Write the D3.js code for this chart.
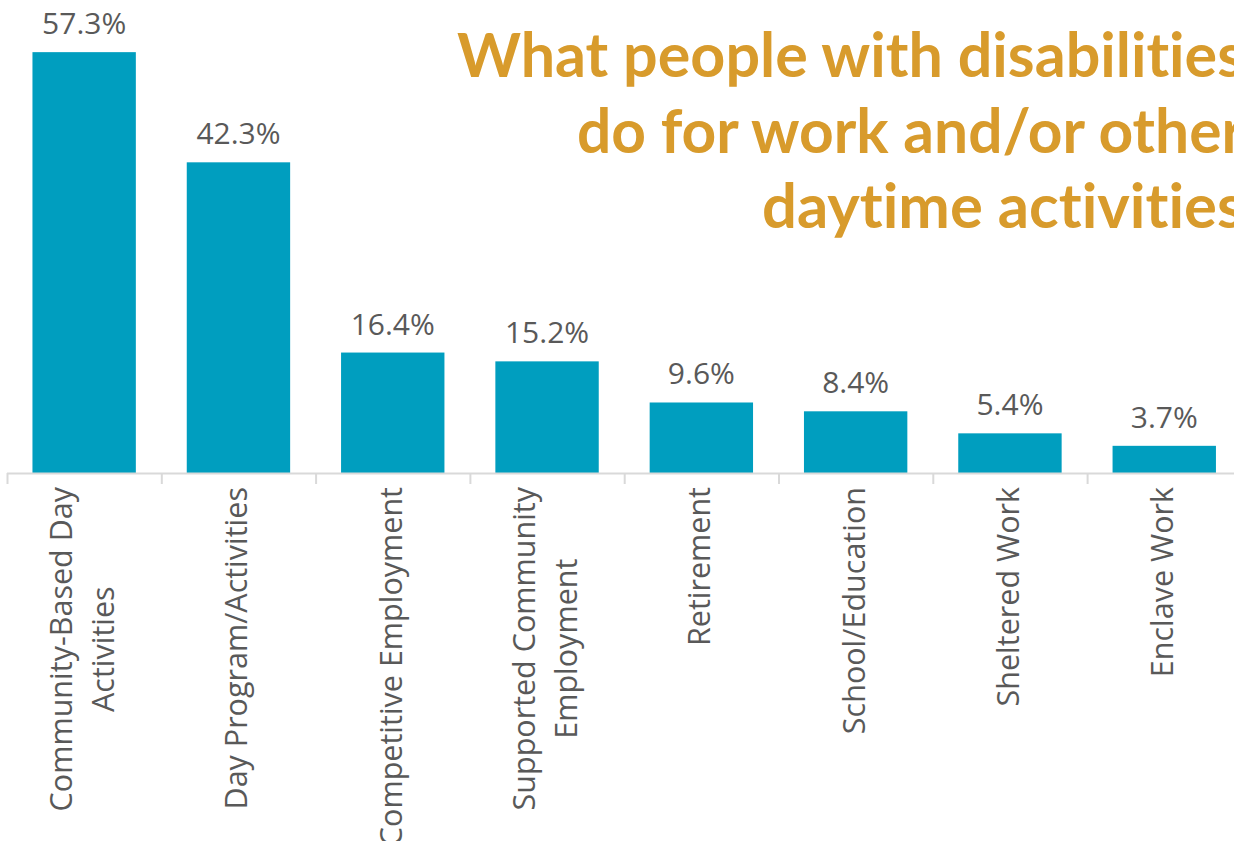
<!DOCTYPE html>
<html>
<head>
<meta charset="utf-8">
<script src="https://cdn.jsdelivr.net/npm/d3@7"></script>
<style>
  html, body { margin: 0; padding: 0; background: #fff; overflow: hidden; }
  svg { display: block; }
  text { font-variant-ligatures: none; }
</style>
</head>
<body>
<svg id="chart"></svg>
<script>
// data
const categories = [
  ["Community-Based Day", "Activities"],
  ["Day Program/Activities"],
  ["Competitive Employment"],
  ["Supported Community", "Employment"],
  ["Retirement"],
  ["School/Education"],
  ["Sheltered Work"],
  ["Enclave Work"]
];
const values = [57.3, 42.3, 16.4, 15.2, 9.6, 8.4, 5.4, 3.7];
const titleLines = [
  "What people with disabilities",
  "do for work and/or other",
  "daytime activities"
];

const W = 1234, H = 841;
const baseY = 473;
const step = 154.3;
const labelFont = "'Open Sans', sans-serif";
const grey = "#595959";

const svg = d3.select("#chart")
  .attr("width", W)
  .attr("height", H);

const keys = categories.map(c => c.join(" "));

const x = d3.scaleBand()
  .domain(keys)
  .range([7, 7 + step * keys.length])
  .paddingInner(0.33)
  .paddingOuter(0.165);

const y = d3.scaleLinear()
  .domain([0, 64.4])
  .range([baseY, 0]);

// bars
svg.selectAll(".bar")
  .data(values)
  .enter()
  .append("rect")
  .attr("class", "bar")
  .attr("x", (d, i) => x(keys[i]))
  .attr("y", d => y(d))
  .attr("width", x.bandwidth())
  .attr("height", d => baseY - y(d))
  .style("fill", "#009ebf");

// value labels
svg.selectAll(".val")
  .data(values)
  .enter()
  .append("text")
  .attr("class", "val")
  .attr("x", (d, i) => x(keys[i]) + x.bandwidth() / 2)
  .attr("y", d => y(d) - 18)
  .attr("text-anchor", "middle")
  .style("font-family", labelFont)
  .style("font-size", "30px")
  .style("fill", grey)
  .text(d => d.toFixed(1) + "%");

// axis line and ticks at band edges
svg.append("line")
  .attr("x1", 7).attr("x2", W)
  .attr("y1", baseY + 0.5).attr("y2", baseY + 0.5)
  .style("stroke", "#d9d9d9")
  .style("stroke-width", 2);

const edges = keys.map(k => x(k) - x.step() * x.paddingInner() / 2 + 0.5);
edges.push(edges[edges.length - 1] + x.step());
svg.selectAll(".tick")
  .data(edges)
  .enter()
  .append("line")
  .attr("class", "tick")
  .attr("x1", d => d).attr("x2", d => d)
  .attr("y1", baseY).attr("y2", baseY + 11)
  .style("stroke", "#d9d9d9")
  .style("stroke-width", 2);

// category labels, rotated, multi-line centred
const lineH = 42;
categories.forEach((lines, i) => {
  const cx = x(keys[i]) + x.bandwidth() / 2;
  const g = svg.append("g")
    .attr("transform", `translate(${cx},${baseY + 14}) rotate(-90)`);
  const texts = g.selectAll("text")
    .data(lines)
    .enter()
    .append("text")
    .attr("y", (d, j) => (j - (lines.length - 1) / 2) * lineH + 9)
    .style("font-family", labelFont)
    .style("font-size", "30.5px")
    .style("fill", grey)
    .attr("text-anchor", "middle")
    .text(d => d);
  let longest = 0;
  texts.each(function () { longest = Math.max(longest, this.getComputedTextLength()); });
  texts.attr("x", -longest / 2);
});

// title (runs past the right edge, as in the original)
// a zero-width non-joiner keeps Lato from fusing "ti"
const titleEnd = 1244;
const titleWidths = [787, 667, 482];
svg.selectAll(".title")
  .data(titleLines)
  .enter()
  .append("text")
  .attr("class", "title")
  .attr("x", (d, i) => titleEnd - titleWidths[i])
  .attr("y", (d, i) => 77 + i * 75.5)
  .attr("textLength", (d, i) => titleWidths[i])
  .attr("lengthAdjust", "spacingAndGlyphs")
  .style("font-family", "Lato, sans-serif")
  .style("font-weight", "bold")
  .style("font-size", "61px")
  .style("fill", "#d89b2c")
  .text(d => d.replace(/ti/g, "t\u200Ci"));
</script>
</body>
</html>
